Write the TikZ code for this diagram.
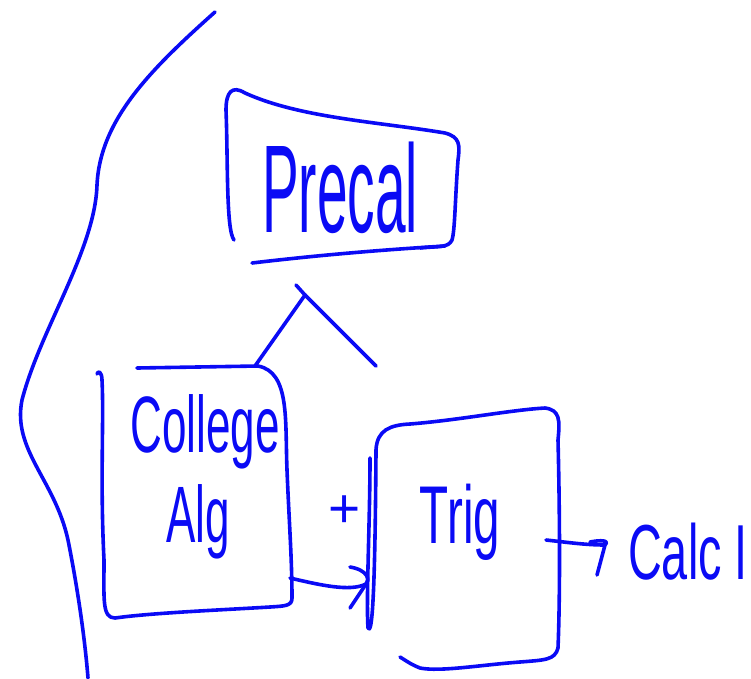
\documentclass[tikz,border=0pt]{standalone}
\usepackage{fontspec}
\setmainfont{Liberation Sans}
\definecolor{ink}{RGB}{10,10,245}
\begin{document}
\begin{tikzpicture}[x=1pt,y=-1pt,
  pen/.style={draw=ink,line width=3.6pt,line cap=round,line join=round},
  hand/.style={text=ink,inner sep=0pt,transform shape,anchor=center}]
\useasboundingbox (0,0) rectangle (751,678);
% left sweeping curve
\draw[pen] (215,12) .. controls (150,70) and (100,120) .. (97,185)
  .. controls (95,250) and (40,330) .. (22,400)
  .. controls (12,450) and (55,480) .. (68,540)
  .. controls (78,590) and (85,640) .. (88,678);
% Precal box
\draw[pen] (234,240) .. controls (226,230) and (228,160) .. (226,110)
  .. controls (226,92) and (232,85) .. (245,93)
  .. controls (300,118) and (380,122) .. (445,133)
  .. controls (460,137) and (460,145) .. (458,160)
  .. controls (455,200) and (455,230) .. (452,240)
  .. controls (448,248) and (440,246) .. (420,248);
\draw[pen] (252,263) .. controls (320,255) and (380,250) .. (445,246);
\node[hand,font=\fontsize{125}{125}\selectfont,xscale=0.44] (precal) at (340,188) {Precal};
% inverted V
\coordinate (apex) at (305,295);
\coordinate (lleg) at (255,366);
\coordinate (rleg) at (376,366);
\draw[pen] (lleg) -- (apex) -- (rleg);
\draw[pen] (296,285) -- (apex);
% College Alg box
\draw[pen] (137,368) -- (258,366) .. controls (290,372) and (285,420) .. (287,470)
  .. controls (289,520) and (292,560) .. (292,598)
  .. controls (292,606) and (285,606) .. (270,607)
  .. controls (220,610) and (150,613) .. (115,618)
  .. controls (102,618) and (104,600) .. (104,560)
  .. controls (100,480) and (104,420) .. (102,380)
  .. controls (102,372) and (98,370) .. (97,374);
\node[hand,font=\fontsize{80}{80}\selectfont,xscale=0.55] (college) at (205,432) {College};
\node[hand,font=\fontsize{80}{80}\selectfont,xscale=0.55] (alg) at (198,522) {Alg};
% plus
\node[hand,font=\fontsize{55}{55}\selectfont] (plus) at (345,512) {+};
% Trig double line and box
\draw[pen] (370,458) .. controls (370,520) and (366,600) .. (368,628)
  .. controls (372,636) and (375,600) .. (376,450)
  .. controls (377,430) and (390,425) .. (410,424)
  .. controls (460,420) and (510,410) .. (545,408)
  .. controls (560,410) and (560,420) .. (558,440)
  .. controls (560,520) and (560,600) .. (558,648)
  .. controls (555,660) and (545,660) .. (520,662)
  .. controls (480,665) and (440,672) .. (420,668)
  .. controls (410,664) and (405,660) .. (400,657);
\node[hand,font=\fontsize{82}{82}\selectfont,xscale=0.58] (trig) at (460,522) {Trig};
\node[hand,font=\fontsize{78}{78}\selectfont,xscale=0.6] (calc) at (688,552) {Calc I};
% arrows
\coordinate (a1s) at (290,578);
\coordinate (a1e) at (366,584);
\draw[pen] (a1s) .. controls (320,585) and (350,592) .. (a1e);
\draw[pen] (350,567) .. controls (368,570) and (370,580) .. (a1e) -- (350,608);
\coordinate (a2s) at (546,540);
\coordinate (a2e) at (605,545);
\draw[pen] (a2s) .. controls (565,542) and (585,545) .. (a2e);
\draw[pen] (590,542) .. controls (600,540) and (610,540) .. (a2e) -- (597,575);
\end{tikzpicture}
\end{document}
